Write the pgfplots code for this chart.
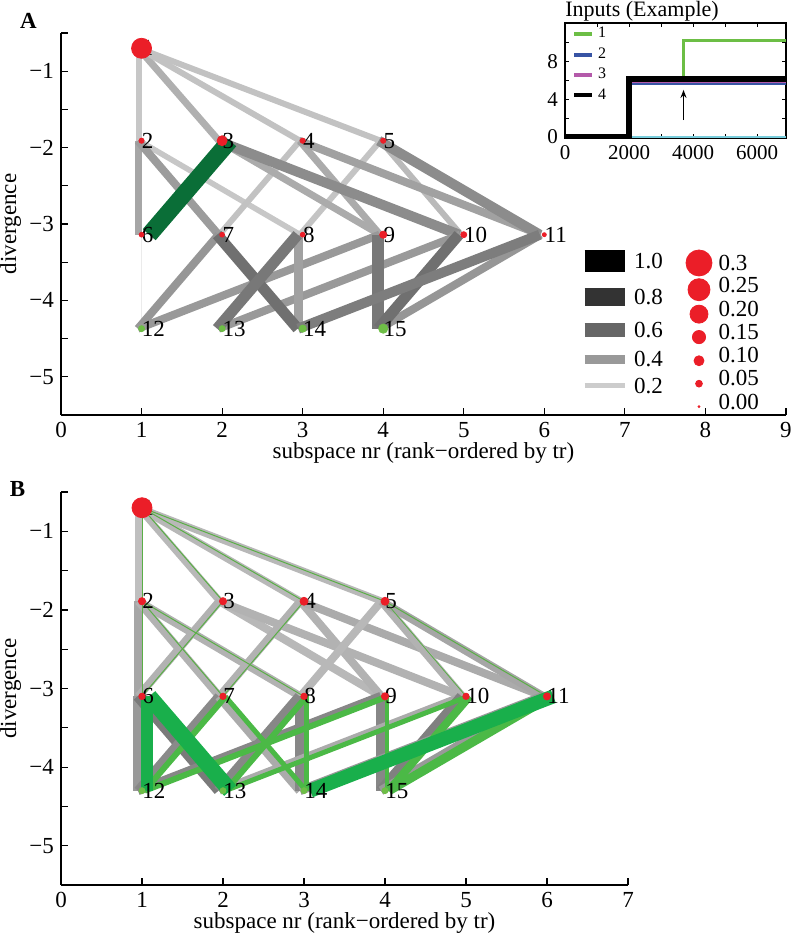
\documentclass[border=0pt]{standalone}
\usepackage{fontspec}
\setmainfont{Liberation Serif}
\usepackage{pgfplots}
\pgfplotsset{compat=1.18}
\usetikzlibrary{arrows.meta}

\definecolor{nred}{RGB}{235,30,40}
\definecolor{ngreen}{RGB}{110,190,70}
\definecolor{dkgreen}{RGB}{10,110,55}
\definecolor{bgreen}{RGB}{25,175,75}
\definecolor{lgreen}{RGB}{75,185,70}
\definecolor{thgreen}{RGB}{90,175,70}
\definecolor{iG}{RGB}{108,190,69}
\definecolor{iB}{RGB}{56,84,164}
\definecolor{iM}{RGB}{180,90,170}
\definecolor{iC}{RGB}{120,205,220}

\newcommand\fs{\fontsize{11.5}{13}\selectfont}
% grey edge (band shifted to the left), green edge (shifted to the right), plain line
\newcommand\G[6]{\edef\myplotcmd{\noexpand\addplot[forget plot, #5, line width=#6, xshift={-0.45*(#6)}] coordinates {(#1,#2) (#3,#4)};}\myplotcmd}
\newcommand\Gr[6]{\edef\myplotcmd{\noexpand\addplot[forget plot, #5, line width=#6, xshift={0.45*(#6)}] coordinates {(#1,#2) (#3,#4)};}\myplotcmd}
\newcommand\E[5]{\edef\myplotcmd{\noexpand\addplot[forget plot, #5] coordinates {(#1,#2) (#3,#4)};}\myplotcmd}
\newcommand\M[3]{\edef\myplotcmd{\noexpand\addplot[forget plot, only marks, mark=*, #3] coordinates {(#1,#2)};}\myplotcmd}

\tikzset{lbl/.style={anchor=west, inner sep=0pt, font=\fs}}
\pgfplotsset{
  mainax/.style={
    scale only axis, anchor=south west,
    xmin=0, ymin=-5.5, ymax=-0.5,
    axis lines=left, axis line style={-, line width=0.6pt, black},
    tick align=inside, major tick length=3.5pt, minor tick length=3.5pt,
    tick style={black, line width=0.6pt},
    ytick={-5,...,-1}, yticklabels={−5,−4,−3,−2,−1},
    minor ytick={-5.5,-4.5,...,-0.5},
    ticklabel style={font=\fs},
    /pgf/number format/assume math mode=true,
    xlabel={subspace nr (rank−ordered by tr)}, ylabel={divergence},
    label style={font=\fs},
    clip=false,
  },
}

\begin{document}
\begin{tikzpicture}[x=1pt,y=1pt]
\useasboundingbox (0,0) rectangle (396.5,468);

% ---------------- Panel A ----------------
\def\yA{-0.70}\def\yB{-1.91}\def\yC{-3.14}\def\yD{-4.37}
\begin{axis}[mainax, at={(30.5pt,260.5pt)}, width=362.5pt, height=191pt,
  xmax=9, xtick={0,...,9},
  xlabel style={at={(axis description cs:0.5,0)}, anchor=center, yshift=-19pt},
  ylabel style={at={(axis description cs:-0.0695,0.5)}, anchor=center, inner sep=0pt},
]
% level 1 -> 2
\G{1}{\yA}{1}{\yB}{black!22}{3pt}
\G{1}{\yA}{2}{\yB}{black!31}{3.5pt}
\G{1}{\yA}{3}{\yB}{black!24}{3pt}
\G{1}{\yA}{4}{\yB}{black!24}{3pt}
% level 2 -> 3
\G{1}{\yB}{3}{\yC}{black!22}{2.8pt}
\G{3}{\yB}{2}{\yC}{black!24}{3pt}
\G{4}{\yB}{3}{\yC}{black!23}{3pt}
\G{4}{\yB}{5}{\yC}{black!27}{3pt}
\G{3}{\yB}{4}{\yC}{black!33}{3.5pt}
\G{2}{\yB}{4}{\yC}{black!33}{3.5pt}
\G{1}{\yB}{1}{\yC}{black!35}{3.5pt}
\G{1}{\yB}{2}{\yC}{black!39}{4pt}
\G{3}{\yB}{6}{\yC}{black!37}{4pt}
\G{2}{\yB}{5}{\yC}{black!45}{5pt}
\G{4}{\yB}{6}{\yC}{black!45}{5pt}
% level 3 -> 4
\E{1}{\yC}{1}{\yD}{black!8, line width=0.5pt}
\G{2}{\yC}{1}{\yD}{black!41}{4pt}
\G{4}{\yC}{1}{\yD}{black!40}{4pt}
\G{5}{\yC}{2}{\yD}{black!40}{4pt}
\G{6}{\yC}{4}{\yD}{black!41}{4pt}
\G{3}{\yC}{3}{\yD}{black!37}{4.5pt}
\G{2}{\yC}{3}{\yD}{black!56}{5.5pt}
\G{3}{\yC}{2}{\yD}{black!53}{5.5pt}
\G{4}{\yC}{4}{\yD}{black!53}{6pt}
\G{5}{\yC}{4}{\yD}{black!56}{5.5pt}
\G{6}{\yC}{3}{\yD}{black!51}{5pt}
% strong edge
\Gr{2}{\yB}{1}{\yC}{dkgreen}{8.5pt}
% node markers
\M{1}{\yA}{nred, mark size=5pt}
\M{1}{\yB}{nred, mark size=1.3pt}
\M{2}{\yB}{nred, mark size=2.5pt}
\M{3}{\yB}{nred, mark size=1.3pt}
\M{4}{\yB}{nred, mark size=1.3pt}
\M{1}{\yC}{nred, mark size=1.2pt}
\M{2}{\yC}{nred, mark size=1.2pt}
\M{3}{\yC}{nred, mark size=1.2pt}
\M{4}{\yC}{nred, mark size=1.8pt}
\M{5}{\yC}{nred, mark size=1.5pt}
\M{6}{\yC}{nred, mark size=1pt}
\M{1}{\yD}{ngreen, mark size=1.5pt}
\M{2}{\yD}{ngreen, mark size=1.5pt}
\M{3}{\yD}{ngreen, mark size=1.8pt}
\M{4}{\yD}{ngreen, mark size=2.3pt}
% node labels
\node[lbl] at (axis cs:1,\yA) {1};
\node[lbl] at (axis cs:1,\yB) {2};
\node[lbl] at (axis cs:2,\yB) {3};
\node[lbl] at (axis cs:3,\yB) {4};
\node[lbl] at (axis cs:4,\yB) {5};
\node[lbl] at (axis cs:1,\yC) {6};
\node[lbl] at (axis cs:2,\yC) {7};
\node[lbl] at (axis cs:3,\yC) {8};
\node[lbl] at (axis cs:4,\yC) {9};
\node[lbl] at (axis cs:5,\yC) {10};
\node[lbl] at (axis cs:6,\yC) {11};
\node[lbl] at (axis cs:1,\yD) {12};
\node[lbl] at (axis cs:2,\yD) {13};
\node[lbl] at (axis cs:3,\yD) {14};
\node[lbl] at (axis cs:4,\yD) {15};
% legend: edge weights
\E{6.5}{-3.49}{7.0}{-3.49}{black, line width=11pt}
\E{6.5}{-3.95}{7.0}{-3.95}{black!80, line width=9pt}
\E{6.5}{-4.39}{7.0}{-4.39}{black!60, line width=7pt}
\E{6.5}{-4.77}{7.0}{-4.77}{black!40, line width=4.5pt}
\E{6.5}{-5.12}{7.0}{-5.12}{black!20, line width=2.5pt}
\node[lbl] at (axis cs:7.11,-3.49) {1.0};
\node[lbl] at (axis cs:7.11,-3.95) {0.8};
\node[lbl] at (axis cs:7.11,-4.39) {0.6};
\node[lbl] at (axis cs:7.11,-4.77) {0.4};
\node[lbl] at (axis cs:7.11,-5.12) {0.2};
% legend: node sizes
\M{7.92}{-3.51}{nred, mark size=6.5pt}
\M{7.92}{-3.86}{nred, mark size=5.5pt}
\M{7.92}{-4.18}{nred, mark size=4.5pt}
\M{7.92}{-4.48}{nred, mark size=3.3pt}
\M{7.92}{-4.79}{nred, mark size=2.5pt}
\M{7.92}{-5.09}{nred, mark size=1.7pt}
\M{7.92}{-5.39}{nred, mark size=0.5pt}
\node[lbl] at (axis cs:8.16,-3.51) {0.3};
\node[lbl] at (axis cs:8.16,-3.80) {0.25};
\node[lbl] at (axis cs:8.16,-4.11) {0.20};
\node[lbl] at (axis cs:8.16,-4.41) {0.15};
\node[lbl] at (axis cs:8.16,-4.71) {0.10};
\node[lbl] at (axis cs:8.16,-5.01) {0.05};
\node[lbl] at (axis cs:8.16,-5.33) {0.00};
\end{axis}

% ---------------- Inset ----------------
\begin{axis}[at={(282.5pt,399pt)}, anchor=south west, width=110.5pt, height=57.5pt, scale only axis,
  xmin=0, xmax=6900, ymin=-0.1, ymax=12.1,
  xtick={0,2000,4000,6000}, xticklabels={0,2000,4000,6000}, minor xtick={1000,3000,5000},
  ytick={0,4,8}, minor ytick={2,6,10},
  tick align=inside, major tick length=2pt, minor tick length=2pt,
  tick style={black, line width=0.5pt}, axis line style={line width=0.6pt},
  ticklabel style={font=\fontsize{10.5}{12}\selectfont},
  /pgf/number format/assume math mode=true,
  scaled x ticks=false,
  title={Inputs (Example)},
  every axis title/.style={at={(axis description cs:0,1)}, anchor=base west, inner sep=0pt, yshift=3.25pt, font=\fontsize{11}{12}\selectfont},
  legend style={at={(axis description cs:0.03,1.0)}, anchor=north west, draw=none, fill=none,
    font=\fontsize{8}{9}\selectfont, row sep=-0.6pt, inner sep=0pt},
  legend cell align=left,
  legend image code/.code={\draw[#1, line width=2pt] (0,0) -- (9pt,0);},
]
\addplot[iC, line width=0.6pt, forget plot] coordinates {(0,0) (6900,0)};
\addplot[iG, line width=1.5pt] coordinates {(0,0) (2000,0) (2000,6.15) (3700,6.15) (3700,10.2) (6900,10.2)};
\addlegendentry{1}
\addplot[iB, line width=1.5pt] coordinates {(0,0) (2000,0) (2000,5.7) (6900,5.7)};
\addlegendentry{2}
\addplot[iM, line width=1.5pt] coordinates {(0,0) (2000,0) (2000,5.94) (6900,5.94)};
\addlegendentry{3}
\addplot[black, line width=2.8pt] coordinates {(0,0) (2000,0) (2000,6.15) (6900,6.15)};
\addlegendentry{4}
\draw[-{Stealth[length=4pt,width=3pt]}, line width=0.8pt] (axis cs:3700,1.8) -- (axis cs:3700,5.0);
\end{axis}

% ---------------- Panel B ----------------
\def\yA{-0.70}\def\yB{-1.89}\def\yC{-3.10}\def\yD{-4.30}
\begin{axis}[mainax, at={(30.5pt,25.5pt)}, width=283.5pt, height=196.5pt,
  xmax=7, xtick={0,...,7},
  xlabel style={at={(axis description cs:0.5,0)}, anchor=center, yshift=-19pt},
  ylabel style={at={(axis description cs:-0.0889,0.5)}, anchor=center, inner sep=0pt},
]
% grey edges level 1->2, 2->3
\G{1}{\yA}{1}{\yB}{black!25}{3.5pt}
\G{1}{\yA}{2}{\yB}{black!28}{3.5pt}
\G{1}{\yA}{3}{\yB}{black!28}{3.5pt}
\G{1}{\yA}{4}{\yB}{black!28}{3.5pt}
\G{1}{\yB}{1}{\yC}{black!35}{4pt}
\G{1}{\yB}{2}{\yC}{black!30}{4pt}
\G{1}{\yB}{3}{\yC}{black!30}{4pt}
\G{2}{\yB}{1}{\yC}{black!30}{4pt}
\G{2}{\yB}{4}{\yC}{black!28}{4pt}
\G{2}{\yB}{5}{\yC}{black!30}{4pt}
\G{3}{\yB}{2}{\yC}{black!30}{4pt}
\G{3}{\yB}{4}{\yC}{black!30}{4pt}
\G{3}{\yB}{6}{\yC}{black!33}{4pt}
\G{4}{\yB}{3}{\yC}{black!28}{4pt}
\G{4}{\yB}{5}{\yC}{black!30}{4pt}
\G{4}{\yB}{6}{\yC}{black!35}{4pt}
% thin green
\E{1}{\yA}{1}{\yB}{thgreen, line width=0.5pt}
\E{1}{\yA}{2}{\yB}{thgreen, line width=0.5pt}
\E{1}{\yA}{3}{\yB}{thgreen, line width=0.5pt}
\E{1}{\yA}{4}{\yB}{thgreen, line width=0.5pt}
\E{1}{\yB}{1}{\yC}{thgreen, line width=0.5pt}
\E{1}{\yB}{2}{\yC}{thgreen, line width=0.5pt}
\E{1}{\yB}{3}{\yC}{thgreen, line width=0.5pt}
\E{2}{\yB}{1}{\yC}{thgreen, line width=0.5pt}
\E{3}{\yB}{2}{\yC}{thgreen, line width=0.5pt}
\E{4}{\yB}{5}{\yC}{thgreen, line width=0.4pt}
\E{4}{\yB}{6}{\yC}{thgreen, line width=0.5pt}
% grey edges level 3->4
\G{1}{\yC}{1}{\yD}{black!40}{4.5pt}
\G{1}{\yC}{2}{\yD}{black!52}{5pt}
\G{2}{\yC}{1}{\yD}{black!46}{4.5pt}
\G{2}{\yC}{3}{\yD}{black!33}{4.5pt}
\G{3}{\yC}{2}{\yD}{black!47}{5pt}
\G{3}{\yC}{3}{\yD}{black!47}{5pt}
\G{4}{\yC}{1}{\yD}{black!47}{4.5pt}
\G{4}{\yC}{4}{\yD}{black!47}{5pt}
\G{5}{\yC}{2}{\yD}{black!33}{4pt}
\G{5}{\yC}{4}{\yD}{black!50}{5pt}
\G{6}{\yC}{3}{\yD}{black!40}{4.5pt}
\G{6}{\yC}{4}{\yD}{black!40}{4.5pt}
% green edges level 3->4
\Gr{2}{\yC}{1}{\yD}{lgreen}{3pt}
\Gr{4}{\yC}{1}{\yD}{lgreen}{3pt}
\Gr{2}{\yC}{3}{\yD}{lgreen}{2.5pt}
\Gr{3}{\yC}{2}{\yD}{lgreen}{3pt}
\Gr{3}{\yC}{3}{\yD}{lgreen}{2.5pt}
\Gr{4}{\yC}{4}{\yD}{lgreen}{2pt}
\Gr{5}{\yC}{2}{\yD}{lgreen}{2.5pt}
\Gr{5}{\yC}{4}{\yD}{lgreen}{4pt}
\Gr{6}{\yC}{4}{\yD}{lgreen}{4.5pt}
\Gr{1}{\yC}{1}{\yD}{bgreen}{6pt}
\Gr{1}{\yC}{2}{\yD}{bgreen}{8pt}
\Gr{6}{\yC}{3}{\yD}{bgreen}{7pt}
% node markers
\M{1}{\yA}{nred, mark size=5pt}
\M{1}{\yB}{nred, mark size=1.8pt}
\M{2}{\yB}{nred, mark size=1.8pt}
\M{3}{\yB}{nred, mark size=2pt}
\M{4}{\yB}{nred, mark size=2pt}
\M{1}{\yC}{nred, mark size=1.6pt}
\M{2}{\yC}{nred, mark size=1.6pt}
\M{3}{\yC}{nred, mark size=1.6pt}
\M{4}{\yC}{nred, mark size=1.8pt}
\M{5}{\yC}{nred, mark size=1.6pt}
\M{6}{\yC}{nred, mark size=1.8pt}
\M{1}{\yD}{ngreen, mark size=1.5pt}
\M{2}{\yD}{ngreen, mark size=1.5pt}
\M{3}{\yD}{ngreen, mark size=1.5pt}
\M{4}{\yD}{ngreen, mark size=1.5pt}
\node[lbl] at (axis cs:1,\yA) {1};
\node[lbl] at (axis cs:1,\yB) {2};
\node[lbl] at (axis cs:2,\yB) {3};
\node[lbl] at (axis cs:3,\yB) {4};
\node[lbl] at (axis cs:4,\yB) {5};
\node[lbl] at (axis cs:1,\yC) {6};
\node[lbl] at (axis cs:2,\yC) {7};
\node[lbl] at (axis cs:3,\yC) {8};
\node[lbl] at (axis cs:4,\yC) {9};
\node[lbl] at (axis cs:5,\yC) {10};
\node[lbl] at (axis cs:6,\yC) {11};
\node[lbl] at (axis cs:1,\yD) {12};
\node[lbl] at (axis cs:2,\yD) {13};
\node[lbl] at (axis cs:3,\yD) {14};
\node[lbl] at (axis cs:4,\yD) {15};
\end{axis}

\node[font=\bfseries\fontsize{11.5}{13}\selectfont] at (14.25,457.6) {A};
\node[font=\bfseries\fontsize{11.5}{13}\selectfont] at (8.75,223.5) {B};
\end{tikzpicture}
\end{document}
